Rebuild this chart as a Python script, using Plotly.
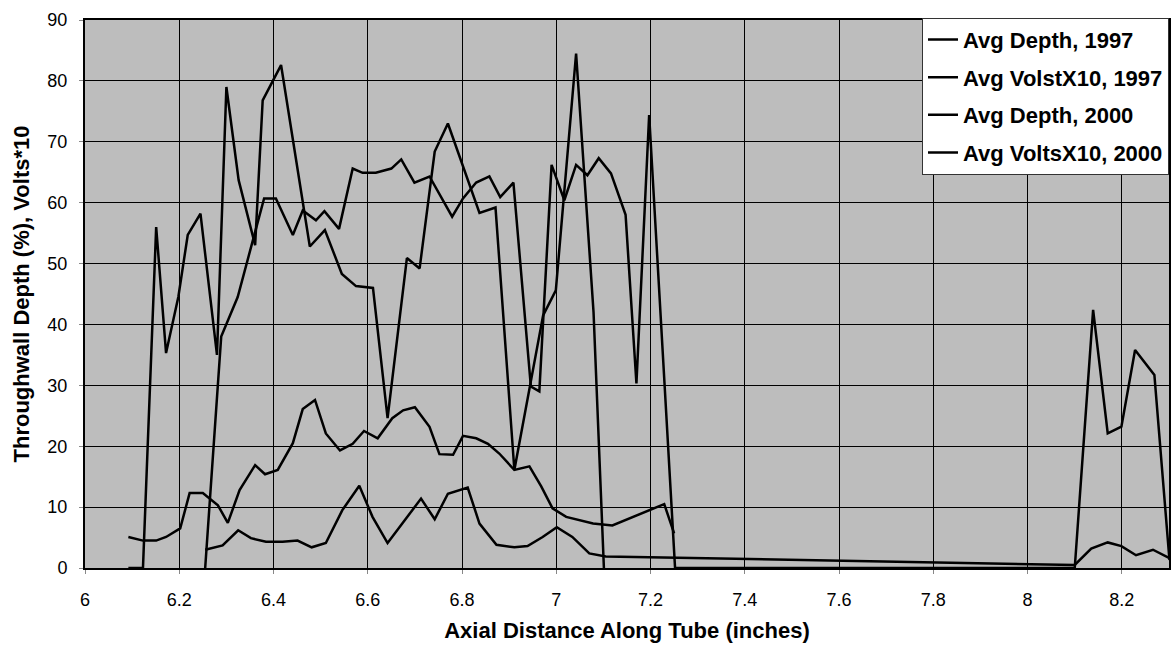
import plotly.graph_objects as go

# Avg Depth, 1997
depth97_x = [6.092, 6.123, 6.151, 6.172, 6.198, 6.218, 6.245, 6.280, 6.300, 6.326, 6.361, 6.377,
             6.416, 6.477, 6.509, 6.545, 6.575, 6.611, 6.642, 6.683, 6.710, 6.742, 6.770, 6.837,
             6.871, 6.911, 6.972, 6.999, 7.042, 7.079, 7.101]
depth97_y = [0, 0, 56.0, 35.3, 44.5, 54.7, 58.2, 35.0, 79.0, 63.7, 53.0, 76.8,
             82.6, 52.8, 55.5, 48.3, 46.3, 46.0, 24.6, 50.9, 49.2, 68.4, 73.0, 58.3,
             59.2, 16.1, 41.5, 45.6, 84.5, 42.0, 0]

# Avg VolstX10, 1997
volts97_x = [6.092, 6.123, 6.151, 6.172, 6.202, 6.222, 6.250, 6.282, 6.303, 6.328, 6.361, 6.382,
             6.409, 6.441, 6.462, 6.488, 6.511, 6.541, 6.568, 6.592, 6.621, 6.652, 6.675, 6.700,
             6.731, 6.752, 6.781, 6.802, 6.830, 6.855, 6.879, 6.911, 6.943, 6.968, 6.992, 7.021,
             7.078, 7.119, 7.229, 7.250]
volts97_y = [5.1, 4.5, 4.5, 5.1, 6.5, 12.3, 12.3, 10.3, 7.4, 12.8, 16.9, 15.4,
             16.1, 20.5, 26.1, 27.6, 22.1, 19.3, 20.4, 22.5, 21.3, 24.6, 25.9, 26.4,
             23.2, 18.7, 18.6, 21.7, 21.3, 20.4, 18.8, 16.1, 16.7, 13.4, 9.8, 8.4,
             7.3, 7.0, 10.5, 5.7]

# Avg Depth, 2000
depth00_x = [6.255, 6.289, 6.324, 6.380, 6.405, 6.441, 6.462, 6.490, 6.508, 6.539, 6.568, 6.589,
             6.617, 6.650, 6.671, 6.699, 6.731, 6.779, 6.802, 6.830, 6.858, 6.881, 6.909, 6.946,
             6.964, 6.990, 7.017, 7.042, 7.066, 7.090, 7.116, 7.147, 7.170, 7.197, 7.252,
             8.100, 8.139, 8.170, 8.199, 8.228, 8.269, 8.301]
depth00_y = [0, 38.0, 44.5, 60.7, 60.7, 54.7, 58.7, 57.1, 58.6, 55.7, 65.6, 64.9,
             64.9, 65.6, 67.1, 63.3, 64.3, 57.7, 60.7, 63.3, 64.3, 60.9, 63.3, 29.8,
             29.0, 66.2, 60.4, 66.2, 64.5, 67.3, 64.8, 58.0, 30.3, 74.4, 0,
             0, 42.4, 22.1, 23.2, 35.8, 31.7, 1.3]

# Avg VoltsX10, 2000
volts00_x = [6.255, 6.292, 6.325, 6.352, 6.384, 6.419, 6.451, 6.481, 6.511, 6.546, 6.582, 6.610,
             6.642, 6.713, 6.742, 6.770, 6.812, 6.837, 6.873, 6.911, 6.939, 6.971, 7.001, 7.034,
             7.070, 7.105, 8.100, 8.135, 8.170, 8.199, 8.230, 8.266, 8.301]
volts00_y = [3.0, 3.7, 6.2, 4.9, 4.3, 4.3, 4.5, 3.4, 4.1, 9.5, 13.5, 8.4,
             4.1, 11.4, 8.0, 12.2, 13.2, 7.3, 3.8, 3.4, 3.6, 5.1, 6.7, 5.1,
             2.4, 1.9, 0.5, 3.2, 4.2, 3.6, 2.1, 3.0, 1.6]

series_names = ["Avg Depth, 1997", "Avg VolstX10, 1997", "Avg Depth, 2000", "Avg VoltsX10, 2000"]
x_ticks = [6, 6.2, 6.4, 6.6, 6.8, 7, 7.2, 7.4, 7.6, 7.8, 8, 8.2]
x_tick_labels = ["6", "6.2", "6.4", "6.6", "6.8", "7", "7.2", "7.4", "7.6", "7.8", "8", "8.2"]
y_ticks = [0, 10, 20, 30, 40, 50, 60, 70, 80, 90]

FONT = "Liberation Sans, Arial, sans-serif"

fig = go.Figure()
for i, (xs, ys) in enumerate([(depth97_x, depth97_y), (volts97_x, volts97_y),
                              (depth00_x, depth00_y), (volts00_x, volts00_y)]):
    fig.add_trace(go.Scatter(
        x=xs, y=ys, mode="lines", name=series_names[i], legendgroup="g%d" % i,
        line=dict(color="black", width=2.5),
    ))

fig.update_layout(
    width=1175, height=647,
    margin=dict(l=85, r=4, t=20, b=79),
    paper_bgcolor="white",
    plot_bgcolor="#bdbdbd",
    font=dict(family=FONT, color="black", size=18),
    showlegend=True,
    legend=dict(
        x=1.0, y=1.004, xanchor="right", yanchor="top",
        bgcolor="white", bordercolor="#333333", borderwidth=1,
        font=dict(family=FONT, size=22, color="black", weight="bold"),
        tracegroupgap=6, itemwidth=30,
    ),
    xaxis=dict(
        range=[6, 8.3], tickvals=x_ticks, ticktext=x_tick_labels,
        showgrid=True, gridcolor="black", gridwidth=1.3,
        showline=True, linecolor="black", linewidth=2, mirror=True,
        ticks="outside", ticklen=4, tickcolor="#888888",
        ticklabelstandoff=10,
        zeroline=False,
        title=dict(text="<b>Axial Distance Along Tube (inches)</b>",
                   font=dict(family=FONT, size=22), standoff=14),
    ),
    yaxis=dict(
        range=[0, 90], tickvals=y_ticks,
        showgrid=True, gridcolor="black", gridwidth=1.3,
        showline=True, linecolor="black", linewidth=2, mirror=True,
        ticks="outside", ticklen=4, tickcolor="#888888",
        ticklabelstandoff=8,
        zeroline=False,
        title=dict(text="<b>Throughwall Depth (%), Volts*10</b>",
                   font=dict(family=FONT, size=22), standoff=12),
    ),
)

fig.write_html("out.html", config={"displayModeBar": False},
               post_script="document.body.style.margin='0';document.body.style.overflow='hidden';")
